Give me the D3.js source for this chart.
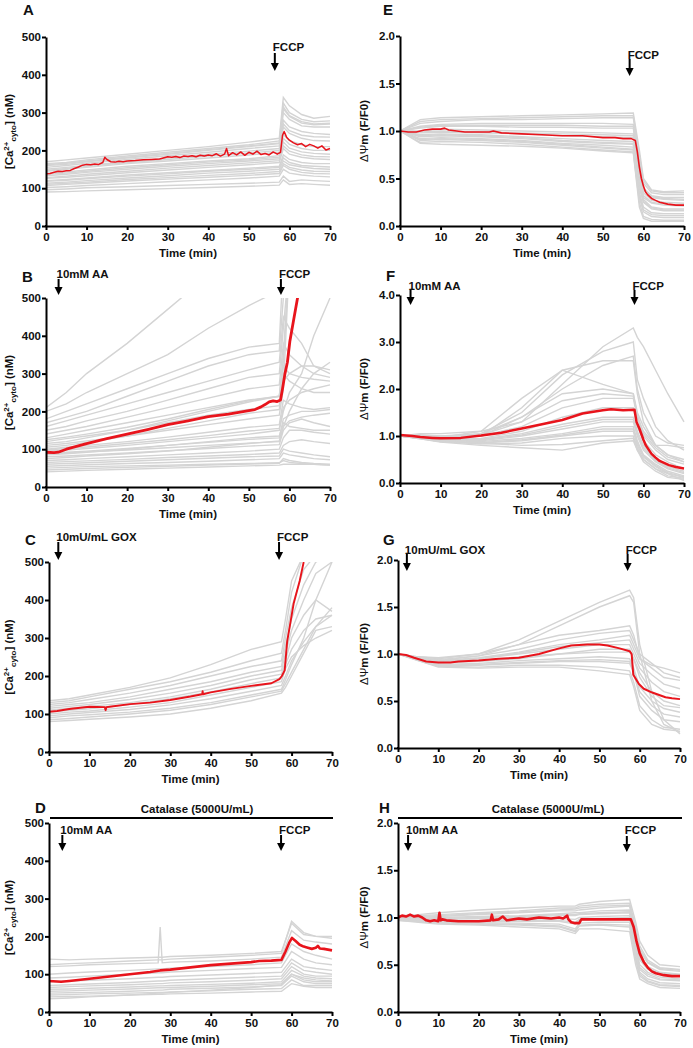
<!DOCTYPE html>
<html><head><meta charset="utf-8">
<script src="https://cdn.jsdelivr.net/npm/d3@7"></script>
<style>
body{margin:0;background:#fff;}
text{font-family:"Liberation Sans",Arial,Helvetica,sans-serif;font-weight:bold;fill:#111;}
</style>
</head><body><svg id="c" width="693" height="1048"></svg>
<script>
// ---------- shared ticks ----------
const xTicks = [0,10,20,30,40,50,60,70];
const caTicks = [0,100,200,300,400,500];
const psiTicks2 = [0,0.5,1,1.5,2];
const psiTicks4 = [0,1,2,3,4];

// ---------- Panel A ----------
const tGrayA = [0,5,10,20,30,40,50,57.5,58.5,60,63,66,70];
const grayA = [
 [170,175,180,190,200,210,222,232,340,318,295,285,290],
 [165,168,175,185,195,205,215,225,325,300,282,276,278],
 [162,166,172,182,192,202,212,220,315,292,276,270,272],
 [160,163,170,180,190,200,210,218,310,290,272,268,270],
 [155,160,166,176,186,195,205,212,300,282,265,262,262],
 [150,155,160,170,180,190,198,205,280,262,250,245,242],
 [147,152,158,168,176,185,193,200,270,252,240,236,235],
 [145,150,155,165,172,180,188,195,262,245,232,226,225],
 [140,143,148,158,165,172,178,186,242,226,215,210,210],
 [137,140,145,154,162,169,175,182,232,216,205,200,200],
 [133,137,142,150,158,165,172,178,222,206,196,192,190],
 [128,132,137,145,153,160,167,173,212,198,188,184,183],
 [126,129,133,141,148,155,162,168,205,190,182,178,176],
 [120,123,127,135,141,147,153,158,188,176,168,165,165],
 [118,121,125,132,138,145,150,155,180,168,160,158,156],
 [113,116,120,127,133,140,145,150,172,162,156,152,150],
 [110,113,116,123,128,134,139,144,165,155,148,145,144],
 [107,110,113,119,124,129,134,139,160,150,142,139,138],
 [102,104,107,112,117,122,127,132,150,140,135,132,130],
 [96,98,101,104,107,110,113,116,132,118,122,120,118],
 [90,91,93,96,99,102,105,108,122,110,112,110,108]
];
const redAt = [0,1,2,3,4,5,6,7,8,9,
 10,11,12,13,14,14.5,15,16,17,18,
 19,20,22,24,26,28,30,31,32,33,
 34,35,36,37,38,39,40,41,42,43,
 44,44.5,45,46,47,48,49,50,51,52,
 53,54,55,56,57,57.8,58.3,58.7,59.3,60,
 61,62,63,64,65,66,67,68,69,70];
const redA = [138,139,142,145,144,146,147,152,156,161,
 163,162,164,163,168,182,176,170,169,171,
 170,172,173,175,176,177,183,182,184,181,
 185,184,186,183,187,185,188,186,191,185,
 190,205,186,194,188,196,187,195,190,198,
 189,192,188,196,190,195,240,250,235,227,
 220,215,218,210,216,212,206,212,201,205];

// ---------- Panel E ----------
const tGrayE = [0,5,10,20,30,40,50,57.5,59,60,62,65,70];
const grayE = [
 [1.0,1.12,1.14,1.15,1.16,1.17,1.18,1.19,0.8,0.5,0.38,0.36,0.37],
 [1.0,1.1,1.12,1.13,1.14,1.15,1.16,1.16,0.75,0.48,0.37,0.35,0.35],
 [1.0,1.08,1.1,1.12,1.12,1.13,1.14,1.14,0.7,0.45,0.35,0.33,0.33],
 [1.0,1.05,1.07,1.08,1.08,1.08,1.08,1.07,0.65,0.4,0.32,0.3,0.3],
 [1.0,1.04,1.06,1.06,1.06,1.06,1.05,1.05,0.62,0.39,0.31,0.29,0.28],
 [1.0,1.03,1.05,1.05,1.04,1.04,1.03,1.03,0.6,0.38,0.3,0.28,0.27],
 [1.0,1.0,1.02,1.01,1.0,0.99,0.98,0.97,0.55,0.35,0.27,0.25,0.24],
 [1.0,0.99,1.0,0.99,0.98,0.97,0.96,0.95,0.52,0.32,0.25,0.23,0.22],
 [1.0,0.98,0.99,0.98,0.97,0.95,0.94,0.93,0.5,0.3,0.24,0.22,0.21],
 [1.0,0.96,0.97,0.96,0.94,0.92,0.9,0.89,0.45,0.28,0.2,0.18,0.18],
 [1.0,0.95,0.96,0.95,0.93,0.9,0.88,0.87,0.42,0.26,0.19,0.17,0.17],
 [1.0,0.94,0.95,0.94,0.92,0.89,0.87,0.86,0.4,0.25,0.18,0.16,0.16],
 [1.0,0.92,0.93,0.92,0.9,0.87,0.85,0.83,0.35,0.2,0.14,0.13,0.13],
 [1.0,0.91,0.92,0.91,0.89,0.86,0.83,0.81,0.32,0.17,0.12,0.11,0.11],
 [1.0,0.9,0.91,0.9,0.88,0.85,0.82,0.8,0.3,0.15,0.1,0.09,0.09],
 [1.0,0.88,0.89,0.88,0.86,0.83,0.8,0.78,0.25,0.1,0.07,0.06,0.06],
 [1.0,0.87,0.86,0.85,0.84,0.82,0.79,0.77,0.2,0.08,0.05,0.05,0.05]
];
const redEt = [0,2,4,6,8,10,11,12,14,16,
 18,20,22,23,25,30,35,40,45,50,
 53,55,57,58,58.5,59,59.5,60,60.5,61,
 62,63,64,66,68,70];
const redE = [1.0,0.99,0.99,1.01,1.02,1.02,1.03,1.01,1.0,0.99,
 0.99,0.99,0.99,1.0,0.98,0.97,0.96,0.95,0.95,0.93,
 0.93,0.92,0.92,0.9,0.78,0.62,0.5,0.42,0.36,0.33,
 0.29,0.27,0.25,0.23,0.22,0.22];

// ---------- Panel B ----------
const tGrayB = [0,5,10,20,30,40,50,57.5,58.5,60,63,66,70];
const grayB = [
 [210,250,300,380,470,560,600,600,600,600,600,600,600],
 [200,220,250,300,350,420,480,520,600,600,600,600,600],
 [180,200,220,260,300,340,370,380,600,600,600,600,600],
 [170,185,200,240,280,320,350,360,500,600,600,600,600],
 [160,175,190,220,250,280,310,330,450,420,380,320,300],
 [150,160,175,200,230,260,290,300,420,600,600,600,600],
 [140,150,160,185,210,235,260,270,380,350,320,300,290],
 [130,140,150,170,190,210,230,240,350,600,600,600,600],
 [125,132,140,158,180,205,228,240,320,300,290,285,280],
 [120,128,135,150,170,190,205,215,300,280,260,250,250],
 [115,120,130,150,175,200,225,240,330,600,600,600,600],
 [110,115,122,135,150,165,180,190,260,600,600,600,600],
 [105,110,118,135,155,175,195,205,280,300,320,320,310],
 [100,105,110,120,132,145,158,165,230,220,210,205,210],
 [98,102,106,115,125,136,148,155,210,230,250,260,270],
 [95,98,102,110,120,130,140,150,200,250,300,400,500],
 [90,92,95,102,110,118,126,130,180,190,200,200,205],
 [88,90,93,98,104,110,116,120,160,175,185,190,195],
 [85,88,92,100,110,120,130,135,170,160,155,150,150],
 [80,82,85,90,96,102,108,112,150,170,180,170,160],
 [75,78,82,88,95,105,115,122,160,200,260,300,330],
 [70,72,75,80,85,90,95,100,130,150,150,145,140],
 [65,67,69,73,78,82,86,90,110,120,125,120,115],
 [60,62,64,68,72,76,80,82,100,95,90,85,80],
 [55,57,59,62,65,68,72,75,90,85,80,75,72],
 [50,52,54,56,58,60,62,64,70,65,62,60,58],
 [45,47,49,52,55,58,61,63,75,70,65,62,60],
 [40,42,44,47,50,53,56,58,60,60,60,60,58]
];
const redBt = [0,2,3,5,10,15,20,25,30,35,
 40,45,50,51.5,53,54,55,56,57,57.8,
 58.3,58.9,59.5,60.1,61,62,62.5];
const redB = [92,91,92,100,115,128,140,152,165,175,
 186,193,202,205,212,218,225,228,226,230,
 260,300,330,385,440,500,530];

// ---------- Panel F ----------
const tGrayF = [0,5,10,20,30,40,50,57.5,58.5,60,63,66,70];
const grayF = [
 [1.0,1.05,1.05,1.1,1.3,2.1,2.9,3.3,3.1,2.9,2.4,1.9,1.3],
 [1.0,1.03,1.0,1.05,1.5,2.3,2.8,3.0,2.2,1.8,1.2,0.9,0.7],
 [1.0,1.0,0.98,1.0,1.6,2.4,2.6,2.6,1.9,1.3,0.8,0.6,0.45],
 [1.0,1.0,0.97,1.1,1.8,2.4,2.1,1.9,1.5,1.2,0.8,0.6,0.5],
 [1.0,1.0,1.0,1.0,1.4,2.0,2.5,2.7,2.0,1.5,1.0,0.85,0.8],
 [1.0,0.98,0.95,1.05,1.4,1.9,2.0,1.9,1.4,1.0,0.7,0.5,0.4],
 [1.0,0.97,0.95,1.02,1.3,1.75,1.9,1.85,1.45,1.05,0.75,0.55,0.45],
 [1.0,0.97,0.94,1.0,1.2,1.6,1.8,1.8,1.4,1.1,0.8,0.8,0.75],
 [1.0,0.97,0.93,0.95,1.1,1.4,1.6,1.6,1.2,0.9,0.6,0.45,0.3],
 [1.0,0.96,0.92,0.93,1.05,1.25,1.4,1.4,1.1,0.8,0.5,0.35,0.25],
 [1.0,0.96,0.91,0.92,1.02,1.2,1.35,1.35,1.05,0.75,0.48,0.32,0.22],
 [1.0,0.95,0.9,0.9,1.0,1.15,1.3,1.3,1.0,0.7,0.45,0.3,0.2],
 [1.0,0.95,0.9,0.88,0.95,1.05,1.2,1.2,0.9,0.6,0.4,0.25,0.15],
 [1.0,0.95,0.89,0.86,0.92,1.02,1.15,1.15,0.85,0.58,0.37,0.22,0.13],
 [1.0,0.95,0.88,0.85,0.9,1.0,1.1,1.1,0.8,0.55,0.35,0.2,0.12],
 [1.0,0.95,0.88,0.83,0.85,0.95,1.0,1.0,0.75,0.5,0.3,0.15,0.1],
 [1.0,0.94,0.87,0.8,0.75,0.7,0.85,0.9,0.7,0.45,0.25,0.12,0.08],
 [1.0,0.94,0.88,0.85,0.8,0.82,0.9,0.95,0.7,0.5,0.3,0.2,0.05]
];
const redFt = [0,3,5,8,10,15,20,25,30,35,
 40,45,50,52,55,57.8,58.3,59,60,60.6,
 62,63,64,66.3,68,70];
const redF = [1.02,1.0,0.98,0.96,0.95,0.96,1.01,1.07,1.16,1.25,
 1.34,1.48,1.55,1.57,1.55,1.56,1.3,1.16,0.92,0.8,
 0.62,0.54,0.47,0.38,0.34,0.31];

// ---------- Panel C ----------
const tGrayC = [0,5,10,20,30,40,50,57.5,58.5,60,63,66,70];
const grayC = [
 [135,140,150,170,195,230,270,290,350,450,520,520,520],
 [130,135,145,165,185,210,240,260,320,420,520,520,520],
 [125,130,138,155,175,200,225,240,300,380,480,520,520],
 [120,125,130,145,165,185,210,225,280,350,440,500,520],
 [115,120,125,138,155,175,200,215,260,320,400,470,500],
 [110,115,120,130,145,165,190,205,240,300,360,400,370],
 [105,110,114,125,140,158,180,195,230,270,320,350,360],
 [100,105,108,118,130,150,170,185,220,250,280,300,320],
 [95,100,104,112,124,140,160,175,200,240,290,330,360],
 [90,95,98,105,115,130,150,165,190,230,300,400,500],
 [85,88,92,100,110,125,145,160,180,210,270,330,380],
 [80,83,86,92,100,115,135,155,170,200,260,320,330]
];
const redCt = [0,2,5,10,13.8,14,14.2,15,20,25,
 30,35,37.9,38,38.1,40,45,50,55,57,
 57.6,58.3,58.9,60.5,62,63];
const redC = [106,108,113,119,118,110,118,119,126,130,
 137,146,152,160,152,157,166,174,181,192,
 200,215,290,390,450,500];

// ---------- Panel G ----------
const tGrayG = [0,5,10,20,30,40,50,57.5,58.5,60,63,66,70];
const grayG = [
 [1.0,0.97,0.95,1.0,1.15,1.35,1.55,1.68,1.6,1.1,0.6,0.3,0.15],
 [1.0,0.96,0.93,0.98,1.1,1.3,1.5,1.62,1.55,1.0,0.5,0.25,0.17],
 [1.0,0.97,0.96,1.0,1.1,1.2,1.25,1.3,1.2,0.95,0.88,0.85,0.8],
 [1.0,0.96,0.94,0.98,1.05,1.15,1.22,1.25,1.15,1.0,0.9,0.8,0.75],
 [1.0,0.96,0.93,0.96,1.02,1.1,1.15,1.2,1.1,0.95,0.85,0.75,0.72],
 [1.0,0.96,0.92,0.95,1.01,1.08,1.12,1.15,1.05,0.9,0.78,0.68,0.63],
 [1.0,0.95,0.92,0.95,1.0,1.05,1.1,1.1,1.0,0.85,0.7,0.6,0.55],
 [1.0,0.95,0.91,0.92,0.95,1.0,1.05,1.05,0.95,0.75,0.55,0.45,0.43],
 [1.0,0.95,0.9,0.93,0.97,1.0,1.02,1.02,0.95,0.8,0.6,0.5,0.45],
 [1.0,0.94,0.89,0.9,0.93,0.95,0.97,0.95,0.85,0.65,0.5,0.42,0.38],
 [1.0,0.94,0.88,0.89,0.91,0.93,0.94,0.92,0.82,0.6,0.45,0.36,0.33],
 [1.0,0.94,0.88,0.88,0.9,0.92,0.92,0.9,0.8,0.55,0.4,0.3,0.28],
 [1.0,0.93,0.87,0.86,0.88,0.88,0.86,0.82,0.7,0.45,0.3,0.22,0.2],
 [1.0,0.93,0.86,0.85,0.86,0.86,0.82,0.78,0.65,0.4,0.25,0.2,0.18]
];
const redGt = [0,2,4,7,10,13,15,20,25,30,
 35,40,43,47,50,52,55,57.5,58,58.4,
 59.8,61,63.1,66.4,68,70];
const redG = [1.0,0.99,0.96,0.92,0.91,0.91,0.92,0.93,0.95,0.96,
 1.0,1.06,1.09,1.1,1.1,1.09,1.06,1.03,1.0,0.78,
 0.68,0.63,0.59,0.54,0.53,0.52];

// ---------- Panel D ----------
const tGrayD = [0,5,10,20,27,27.5,28,30,40,50,57.5,60,63,66,70];
const grayD = [
 [140,138,140,143,145,145,145,147,150,155,160,235,205,200,200],
 [125,128,130,135,138,138,138,140,145,150,155,240,210,200,195],
 [120,122,125,128,130,225,130,132,135,140,145,215,190,185,180],
 [100,103,106,110,114,114,114,116,120,125,130,180,160,150,140],
 [90,92,95,100,104,104,104,106,110,115,118,160,140,130,125],
 [80,82,84,88,92,92,92,94,98,102,105,140,120,115,110],
 [70,72,74,78,82,82,82,84,88,92,95,130,110,105,100],
 [65,67,69,72,75,75,75,77,80,84,88,120,100,95,95],
 [60,61,63,66,69,69,69,70,73,76,80,110,95,90,88],
 [55,56,58,61,64,64,64,65,68,72,75,100,85,80,80],
 [50,51,52,55,58,58,58,60,63,66,70,95,80,75,75],
 [45,46,48,50,52,52,52,53,56,60,62,85,70,70,70],
 [40,41,42,45,47,47,47,48,50,53,55,75,68,65,65],
 [35,37,40,45,50,50,50,52,58,65,72,100,90,85,82]
];
const redDt = [0,3,5,10,15,20,25,27.5,30,35,
 40,45,50,52,55,57.5,58.5,59.5,60.1,61,
 62,63,64,65,66,66.5,67,68,70];
const redD = [82,80,82,88,94,100,106,110,112,118,
 124,128,132,135,136,138,160,185,196,188,
 178,173,170,167,170,175,168,167,163];

// ---------- Panel H ----------
const tGrayH = [0,5,10,20,30,40,44,45,50,57.5,59,60,62,65,70];
const grayH = [
 [1.02,1.03,1.05,1.08,1.1,1.12,1.12,1.14,1.17,1.19,0.95,0.75,0.6,0.5,0.48],
 [1.01,1.02,1.03,1.05,1.07,1.1,1.1,1.12,1.14,1.15,0.9,0.7,0.55,0.47,0.45],
 [1.0,1.01,1.02,1.04,1.06,1.08,1.09,1.1,1.12,1.13,0.87,0.67,0.53,0.46,0.44],
 [1.0,1.0,1.01,1.03,1.05,1.07,1.07,1.08,1.1,1.12,0.85,0.65,0.52,0.45,0.43],
 [1.0,0.99,1.0,1.01,1.02,1.04,1.05,1.05,1.07,1.08,0.8,0.6,0.48,0.42,0.4],
 [0.99,0.98,0.99,1.0,1.01,1.03,1.03,1.04,1.05,1.06,0.77,0.57,0.46,0.41,0.39],
 [0.99,0.98,0.98,0.99,1.0,1.02,1.02,1.03,1.04,1.05,0.75,0.55,0.45,0.4,0.38],
 [0.99,0.98,0.97,0.97,0.98,0.99,0.98,1.0,1.01,1.02,0.7,0.5,0.42,0.37,0.35],
 [0.98,0.97,0.96,0.96,0.97,0.97,0.95,0.98,0.99,1.0,0.67,0.47,0.4,0.35,0.34],
 [0.98,0.97,0.96,0.95,0.96,0.96,0.93,0.97,0.98,0.98,0.65,0.45,0.38,0.34,0.33],
 [0.98,0.96,0.95,0.94,0.94,0.93,0.88,0.94,0.95,0.95,0.6,0.42,0.35,0.31,0.3],
 [0.97,0.96,0.94,0.93,0.93,0.91,0.86,0.92,0.93,0.92,0.57,0.4,0.33,0.29,0.28],
 [0.97,0.96,0.94,0.93,0.92,0.9,0.85,0.91,0.92,0.9,0.55,0.38,0.32,0.28,0.27],
 [0.97,0.95,0.93,0.92,0.9,0.88,0.83,0.88,0.88,0.85,0.5,0.35,0.3,0.26,0.25]
];
const redHt = [0,1,2,3,4,5,6,7,8,9,
 10,10.3,10.6,11,12,15,20,23,23.3,23.6,
 25,26,27,30,32,35,38,40,41,42,
 42.3,43,44,45,45.5,50,55,57.8,58.5,59.2,
 60,61,62,63,64,66,68,70];
const redH = [1.0,1.02,1.01,1.03,1.01,1.02,1.0,0.97,0.96,0.97,
 0.96,1.05,0.97,0.98,0.97,0.96,0.96,0.97,1.03,0.97,
 0.98,1.01,0.97,0.99,0.98,1.0,0.99,1.0,0.99,1.02,
 0.98,0.95,0.94,0.94,0.98,0.98,0.98,0.98,0.9,0.75,
 0.62,0.53,0.47,0.43,0.41,0.39,0.38,0.38];

// ---------- layout ----------
const fmtCa = d3.format("d"), fmtPsi = d3.format(".1f");
const panels = [
 {L:"A", lx:23, ly:15, x0:46, x1:330, yt:37, yb:226, ymax:500, ticks:caTicks, fmt:fmtCa, lab:"ca", labX:9,
  gT:tGrayA, g:grayA, rT:redAt, r:redA, rw:1.5,
  ann:[{t:56.4, s:"FCCP", ty:51, a0:53, a1:71}]},
 {L:"E", lx:383, ly:15, x0:400, x1:684, yt:36, yb:226, ymax:2, ticks:psiTicks2, fmt:fmtPsi, lab:"psi", labX:364,
  gT:tGrayE, g:grayE, rT:redEt, r:redE, rw:1.6,
  ann:[{t:56.6, s:"FCCP", ty:59, a0:59, a1:76}]},
 {L:"B", lx:22, ly:282, x0:46, x1:330, yt:298, yb:487, ymax:500, ticks:caTicks, fmt:fmtCa, lab:"ca", labX:9,
  gT:tGrayB, g:grayB, rT:redBt, r:redB, rw:2.8,
  ann:[{t:3.1, s:"10mM AA", ty:278, a0:279, a1:295},{t:57.9, s:"FCCP", ty:278, a0:279, a1:295}]},
 {L:"F", lx:386, ly:281, x0:400, x1:684, yt:295, yb:483, ymax:4, ticks:psiTicks4, fmt:fmtPsi, lab:"psi", labX:364,
  gT:tGrayF, g:grayF, rT:redFt, r:redF, rw:2.5,
  ann:[{t:2.6, s:"10mM AA", ty:290, a0:290, a1:305},{t:57.8, s:"FCCP", ty:290, a0:290, a1:305}]},
 {L:"C", lx:25, ly:545, x0:49, x1:332, yt:562, yb:752, ymax:500, ticks:caTicks, fmt:fmtCa, lab:"ca", labX:9,
  gT:tGrayC, g:grayC, rT:redCt, r:redC, rw:1.9,
  ann:[{t:2.3, s:"10mU/mL GOX", ty:541, a0:542, a1:560},{t:56.9, s:"FCCP", ty:541, a0:542, a1:560}]},
 {L:"G", lx:383, ly:545, x0:398, x1:680, yt:560, yb:748, ymax:2, ticks:psiTicks2, fmt:fmtPsi, lab:"psi", labX:364,
  gT:tGrayG, g:grayG, rT:redGt, r:redG, rw:2.0,
  ann:[{t:2.2, s:"10mU/mL GOX", ty:554, a0:554, a1:571},{t:57.0, s:"FCCP", ty:554, a0:554, a1:571}]},
 {L:"D", lx:35, ly:813, x0:49, x1:332, yt:823, yb:1012, ymax:500, ticks:caTicks, fmt:fmtCa, lab:"ca", labX:9,
  gT:tGrayD, g:grayD, rT:redDt, r:redD, rw:2.6, cat:{x0:50, x1:333, y:818, tx:197},
  ann:[{t:3.3, s:"10mM AA", ty:834, a0:835, a1:851},{t:57.4, s:"FCCP", ty:834, a0:835, a1:851}]},
 {L:"H", lx:379, ly:813, x0:398, x1:680, yt:823, yb:1012, ymax:2, ticks:psiTicks2, fmt:fmtPsi, lab:"psi", labX:364,
  gT:tGrayH, g:grayH, rT:redHt, r:redH, rw:2.6, cat:{x0:398, x1:682, y:818, tx:548},
  ann:[{t:2.5, s:"10mM AA", ty:834, a0:835, a1:851},{t:56.8, s:"FCCP", ty:834, a0:836, a1:852}]}
];

const svg = d3.select("#c");
const FS = 11.5;

function arrow(g, x, y0, y1){
  g.append("line").attr("x1",x).attr("x2",x).attr("y1",y0).attr("y2",y1-6)
    .attr("stroke","#000").attr("stroke-width",2);
  g.append("path").attr("d",`M${x-4},${y1-8}L${x+4},${y1-8}L${x},${y1}Z`).attr("fill","#000");
}

panels.forEach((p,i)=>{
  const g = svg.append("g");
  const x = d3.scaleLinear().domain([0,70]).range([p.x0,p.x1]);
  const y = d3.scaleLinear().domain([0,p.ymax]).range([p.yb,p.yt]);
  const cid = "clip"+i;
  svg.append("defs").append("clipPath").attr("id",cid).append("rect")
    .attr("x",p.x0).attr("y",p.yt).attr("width",p.x1-p.x0+2).attr("height",p.yb-p.yt);
  const line = d3.line().x(d=>x(d[0])).y(d=>y(d[1]));
  const plot = g.append("g").attr("clip-path",`url(#${cid})`);
  p.g.forEach(tr=>{
    plot.append("path").attr("d",line(d3.zip(p.gT,tr)))
      .attr("fill","none").attr("stroke","#d4d4d4").attr("stroke-width",1.4);
  });
  plot.append("path").attr("d",line(d3.zip(p.rT,p.r)))
    .attr("fill","none").attr("stroke","#e8141c").attr("stroke-width",p.rw)
    .attr("stroke-linejoin","round");

  // axes
  const ya = g.append("g").attr("transform",`translate(${p.x0},0)`)
    .call(d3.axisLeft(y).tickValues(p.ticks).tickFormat(p.fmt).tickSize(4).tickSizeOuter(0).tickPadding(1));
  const xa = g.append("g").attr("transform",`translate(0,${p.yb})`)
    .call(d3.axisBottom(x).tickValues(xTicks).tickSize(4).tickSizeOuter(0).tickPadding(3));
  [ya,xa].forEach(a=>{
    a.select(".domain").attr("stroke","#000").attr("stroke-width",2);
    a.selectAll(".tick line").attr("stroke","#000").attr("stroke-width",2);
    a.selectAll("text").attr("font-size",FS).attr("font-family","Liberation Sans, Arial, sans-serif")
      .attr("font-weight","bold").attr("fill","#111");
  });
  g.append("rect").attr("x",p.x0-1).attr("y",p.yb-1).attr("width",2).attr("height",2).attr("fill","#000");

  g.append("text").attr("x",(p.x0+p.x1)/2).attr("y",p.yb+31).attr("text-anchor","middle")
    .attr("font-size",FS).text("Time (min)");

  // y label
  const cy = (p.yt+p.yb)/2;
  const yl = g.append("text").attr("transform",`translate(${p.labX+4},${cy}) rotate(-90)`)
    .attr("text-anchor","middle").attr("font-size",FS);
  if(p.lab==="ca"){
    yl.append("tspan").text("[Ca");
    yl.append("tspan").attr("font-size",8).attr("dy",-4).text("2+");
    yl.append("tspan").attr("font-size",8).attr("dy",7).text("cyto");
    yl.append("tspan").attr("dy",-3).text("] (nM)");
  } else {
    yl.append("tspan").attr("font-weight","normal").text("ΔΨ");
    yl.append("tspan").text("m (F/F0)");
  }

  g.append("text").attr("x",p.lx).attr("y",p.ly).attr("font-size",15).text(p.L);

  p.ann.forEach(a=>{
    const ax = x(a.t);
    g.append("text").attr("x",ax-2).attr("y",a.ty).attr("font-size",FS).text(a.s);
    arrow(g, ax, a.a0, a.a1);
  });

  if(p.cat){
    g.append("line").attr("x1",p.cat.x0).attr("x2",p.cat.x1).attr("y1",p.cat.y).attr("y2",p.cat.y)
      .attr("stroke","#000").attr("stroke-width",2);
    g.append("text").attr("x",p.cat.tx).attr("y",p.cat.y-5).attr("text-anchor","middle")
      .attr("font-size",FS).text("Catalase (5000U/mL)");
  }
});
</script></body></html>
